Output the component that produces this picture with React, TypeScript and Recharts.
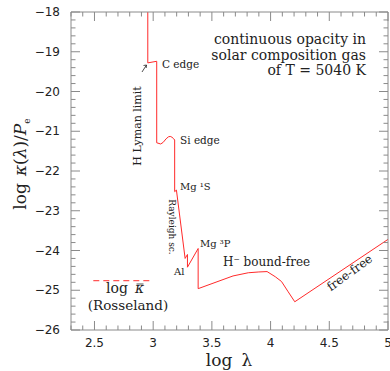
import { Line, LineChart, XAxis, YAxis } from "recharts";

// log wavelength (Angstrom) and log kappa / Pe
const logLambda = [
  2.954, 2.954, 3.03, 3.03, 3.064, 3.085, 3.11, 3.13, 3.145, 3.16, 3.175, 3.183, 3.183,
  3.198, 3.272, 3.292, 3.292, 3.383, 3.383, 3.68, 3.81, 3.9, 3.97, 4.04, 4.093, 4.15,
  4.206, 5.0
];
const logKappa = [
  -18, -19.28, -19.24, -21.29, -21.32, -21.28, -21.19, -21.14, -21.13, -21.15, -21.19,
  -21.22, -22.52, -22.48, -24.2, -24.1, -24.42, -23.95, -24.96, -24.64, -24.56, -24.54,
  -24.53, -24.66, -24.78, -25.04, -25.29, -23.72
];

// Rosseland mean, drawn as a dashed level
const rosselandRange = [2.49, 2.97];
const rosselandValue = -24.76;

const xTicks = [
  2.3, 2.4, 2.5, 2.6, 2.7, 2.8, 2.9, 3.0, 3.1, 3.2, 3.3, 3.4, 3.5, 3.6, 3.7, 3.8, 3.9, 4.0,
  4.1, 4.2, 4.3, 4.4, 4.5, 4.6, 4.7, 4.8, 4.9, 5.0
];
const xMajor = [2.5, 3, 3.5, 4, 4.5, 5];
const yTicks = [
  -26, -25.8, -25.6, -25.4, -25.2, -25, -24.8, -24.6, -24.4, -24.2, -24, -23.8, -23.6, -23.4,
  -23.2, -23, -22.8, -22.6, -22.4, -22.2, -22, -21.8, -21.6, -21.4, -21.2, -21, -20.8, -20.6,
  -20.4, -20.2, -20, -19.8, -19.6, -19.4, -19.2, -19, -18.8, -18.6, -18.4, -18.2, -18
];
const yMajor = [-26, -25, -24, -23, -22, -21, -20, -19, -18];

const curve = logLambda.map((x, i) => ({ x, y: logKappa[i] }));
const rosseland = rosselandRange.map((x) => ({ x, y: rosselandValue }));

const AXIS = "#8a8a8a";
const TEXT = "#222";
const RED = "#ff2a2a";
const SERIF = "'DejaVu Serif', serif";
const SANS = "'DejaVu Sans', sans-serif";

const isMajor = (list: number[], v: number) => list.some((m) => Math.abs(m - v) < 1e-6);
const fmt = (v: number) => (v < 0 ? "\u2212" + Math.abs(v) : String(v));

const xTick = (side: "top" | "bottom") => (props: any) => {
  const { x, y, payload } = props;
  const v = payload.value as number;
  const major = isMajor(xMajor, v);
  const len = major ? 9 : 4.5;
  const dir = side === "bottom" ? -1 : 1;
  return (
    <g>
      <line x1={x} x2={x} y1={y} y2={y + dir * len} stroke={AXIS} />
      {side === "bottom" && major && (
        <text x={x} y={y + 17} textAnchor="middle" fontFamily={SANS} fontSize={12} fill={TEXT}>
          {fmt(v)}
        </text>
      )}
    </g>
  );
};

const yTick = (side: "left" | "right") => (props: any) => {
  const { x, y, payload } = props;
  const v = payload.value as number;
  const major = isMajor(yMajor, v);
  const len = major ? 9 : 4.5;
  const dir = side === "left" ? 1 : -1;
  return (
    <g>
      <line x1={x} x2={x + dir * len} y1={y} y2={y} stroke={AXIS} />
      {side === "left" && major && (
        <text x={x - 11} y={y} dy="0.35em" textAnchor="end" fontFamily={SANS} fontSize={12} fill={TEXT}>
          {fmt(v)}
        </text>
      )}
    </g>
  );
};

export default function App() {
  return (
    <div style={{ position: "absolute", left: 0, top: 0, background: "#fff" }}>
      <LineChart width={390} height={371} margin={{ top: 11, right: 1, bottom: 0, left: 0 }}>
        <XAxis
          xAxisId="bottom"
          type="number"
          dataKey="x"
          domain={[2.3, 5]}
          ticks={xTicks}
          interval={0}
          height={41}
          tickSize={0}
          tickMargin={0}
          tickLine={false}
          tick={xTick("bottom")}
          stroke={AXIS}
        />
        <XAxis
          xAxisId="top"
          orientation="top"
          type="number"
          dataKey="x"
          domain={[2.3, 5]}
          ticks={xTicks}
          interval={0}
          height={1}
          tickSize={0}
          tickMargin={0}
          tickLine={false}
          tick={xTick("top")}
          stroke={AXIS}
        />
        <YAxis
          yAxisId="left"
          type="number"
          dataKey="y"
          domain={[-26, -18]}
          ticks={yTicks}
          interval={0}
          width={71}
          tickSize={0}
          tickMargin={0}
          tickLine={false}
          tick={yTick("left")}
          stroke={AXIS}
        />
        <YAxis
          yAxisId="right"
          orientation="right"
          type="number"
          dataKey="y"
          domain={[-26, -18]}
          ticks={yTicks}
          interval={0}
          width={1}
          tickSize={0}
          tickMargin={0}
          tickLine={false}
          tick={yTick("right")}
          stroke={AXIS}
        />
        {/* invisible copy so the top / right frame axes are drawn */}
        <Line
          xAxisId="top"
          yAxisId="right"
          data={curve}
          dataKey="y"
          stroke="none"
          dot={false}
          activeDot={false}
          isAnimationActive={false}
        />
        <Line
          xAxisId="bottom"
          yAxisId="left"
          data={curve}
          dataKey="y"
          type="linear"
          stroke={RED}
          strokeWidth={1}
          dot={false}
          isAnimationActive={false}
        />
        <Line
          xAxisId="bottom"
          yAxisId="left"
          data={rosseland}
          dataKey="y"
          type="linear"
          stroke={RED}
          strokeWidth={1}
          strokeDasharray="6 4"
          dot={false}
          isAnimationActive={false}
        />

        {/* axis titles */}
        <text x={229} y={366} textAnchor="middle" fontFamily={SERIF} fontSize={17} fill={TEXT}>
          log<tspan dx={9}>λ</tspan>
        </text>
        <text
          transform="translate(26,164) rotate(-90)"
          textAnchor="middle"
          fontFamily={SERIF}
          fontSize={17}
          fill={TEXT}
        >
          log<tspan dx={7} fontStyle="italic">κ</tspan>(<tspan fontStyle="italic">λ</tspan>)/<tspan fontStyle="italic">P</tspan>
          <tspan fontSize={9} dy={4}>e</tspan>
        </text>

        {/* annotations */}
        <g fontFamily={SERIF} fill={TEXT}>
          <text x={366} y={44} textAnchor="end" fontSize={14}>continuous opacity in</text>
          <text x={366} y={59.5} textAnchor="end" fontSize={14}>solar composition gas</text>
          <text x={366} y={75} textAnchor="end" fontSize={14}>of T = 5040 K</text>

          <text x={162} y={68} fontSize={10.5}>C edge</text>
          <text x={180} y={144} fontSize={10.5}>Si edge</text>
          <text transform="translate(141,126) rotate(-90)" textAnchor="middle" fontSize={11}>
            H Lyman limit
          </text>
          <path d="M142,72 L146.5,65 M143.5,65.5 L146.5,65 L146.2,68" stroke={TEXT} fill="none" strokeWidth={0.8} />
          <text x={180} y={190} fontSize={10}>Mg ¹S</text>
          <text transform="translate(169,227) rotate(90)" textAnchor="middle" fontSize={9}>
            Rayleigh sc.
          </text>
          <text x={174} y={275} fontSize={10}>Al</text>
          <text x={200} y={247} fontSize={10}>Mg ³P</text>
          <text x={223} y={266} fontSize={12}>H⁻ bound-free</text>
          <text
            transform="translate(352,276) rotate(-36)"
            textAnchor="middle"
            fontSize={12}
          >
            free-free
          </text>

          <text x={106} y={293} fontSize={14}>log</text>
          <text x={135} y={293} fontSize={14} fontStyle="italic">κ</text>
          <line x1={136.5} x2={143.5} y1={284} y2={284} stroke={TEXT} strokeWidth={0.8} />
          <text x={128} y={310} textAnchor="middle" fontSize={13.5}>(Rosseland)</text>
        </g>
      </LineChart>
    </div>
  );
}
